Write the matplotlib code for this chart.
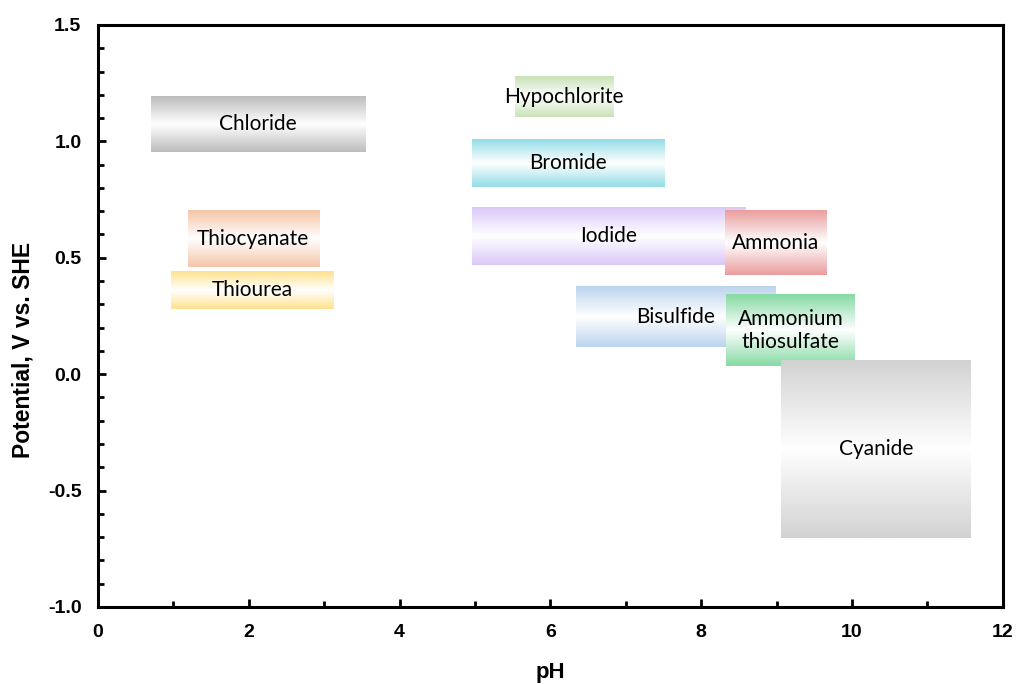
import numpy as np
import matplotlib
matplotlib.use("Agg")
import matplotlib.pyplot as plt
from matplotlib.colors import LinearSegmentedColormap
from matplotlib.ticker import MultipleLocator

# lixiviant stability regions: pH range and potential range (V vs. SHE)
names = ["Chloride", "Thiocyanate", "Thiourea", "Hypochlorite", "Bromide",
         "Iodide", "Ammonia", "Bisulfide", "Ammonium\nthiosulfate", "Cyanide"]
ph_low = [0.70, 1.19, 0.97, 5.53, 4.96, 4.96, 8.32, 6.34, 8.33, 9.06]
ph_high = [3.55, 2.93, 3.13, 6.83, 7.51, 8.59, 9.66, 8.98, 10.04, 11.57]
e_low = [0.955, 0.460, 0.280, 1.105, 0.804, 0.469, 0.426, 0.117, 0.035, -0.704]
e_high = [1.195, 0.701, 0.439, 1.277, 1.010, 0.718, 0.701, 0.375, 0.340, 0.057]
colors = ["#bdbdbd", "#f6c6a8", "#ffe28f", "#c8e2b6", "#93dde6",
          "#dcc8f8", "#ea9e9e", "#bcd4ee", "#86daa4", "#d2d2d2"]

fig = plt.figure(figsize=(10.16, 6.84), dpi=100)
ax = fig.add_axes([0.0965, 0.1126, 0.8905, 0.8509])

# vertical profile: colour at edges, white in the middle
t = np.linspace(0, 1, 128)
profile = np.abs(t - 0.5) * 2
grad = profile.reshape(-1, 1)

for i, name in enumerate(names):
    cmap = LinearSegmentedColormap.from_list(f"c{i}", ["#ffffff", colors[i]])
    ax.imshow(grad, cmap=cmap, vmin=0, vmax=1, aspect="auto",
              extent=(ph_low[i], ph_high[i], e_low[i], e_high[i]),
              origin="lower", zorder=2 + i, interpolation="bilinear")
    ax.text((ph_low[i] + ph_high[i]) / 2, (e_low[i] + e_high[i]) / 2, name,
            ha="center", va="center", fontsize=15, family="Lato",
            linespacing=1.15, zorder=20 + i)

ax.set_xlim(0, 12)
ax.set_ylim(-1.0, 1.5)
ax.xaxis.set_major_locator(MultipleLocator(2))
ax.xaxis.set_minor_locator(MultipleLocator(1))
ax.yaxis.set_major_locator(MultipleLocator(0.5))
ax.yaxis.set_minor_locator(MultipleLocator(0.1))
ax.yaxis.set_major_formatter(matplotlib.ticker.FormatStrFormatter("%.1f"))

for s in ax.spines.values():
    s.set_linewidth(2.2)
ax.tick_params(which="both", direction="in", top=False, right=False, width=2)
ax.tick_params(which="major", length=6, labelsize=14, pad=12)
ax.tick_params(which="minor", length=4)
for lab in ax.get_xticklabels() + ax.get_yticklabels():
    lab.set_fontweight("bold")
    lab.set_family("Liberation Sans")

ax.set_xlabel("pH", fontsize=16, fontweight="bold", family="Liberation Sans", va="center")
ax.set_ylabel("Potential, V vs. SHE", fontsize=16.5, fontweight="bold",
              family="Liberation Sans", va="center")
ax.xaxis.set_label_coords(0.5, -0.1134)
ax.yaxis.set_label_coords(-0.0829, 0.4416)

fig.savefig("out.png", dpi=100)
